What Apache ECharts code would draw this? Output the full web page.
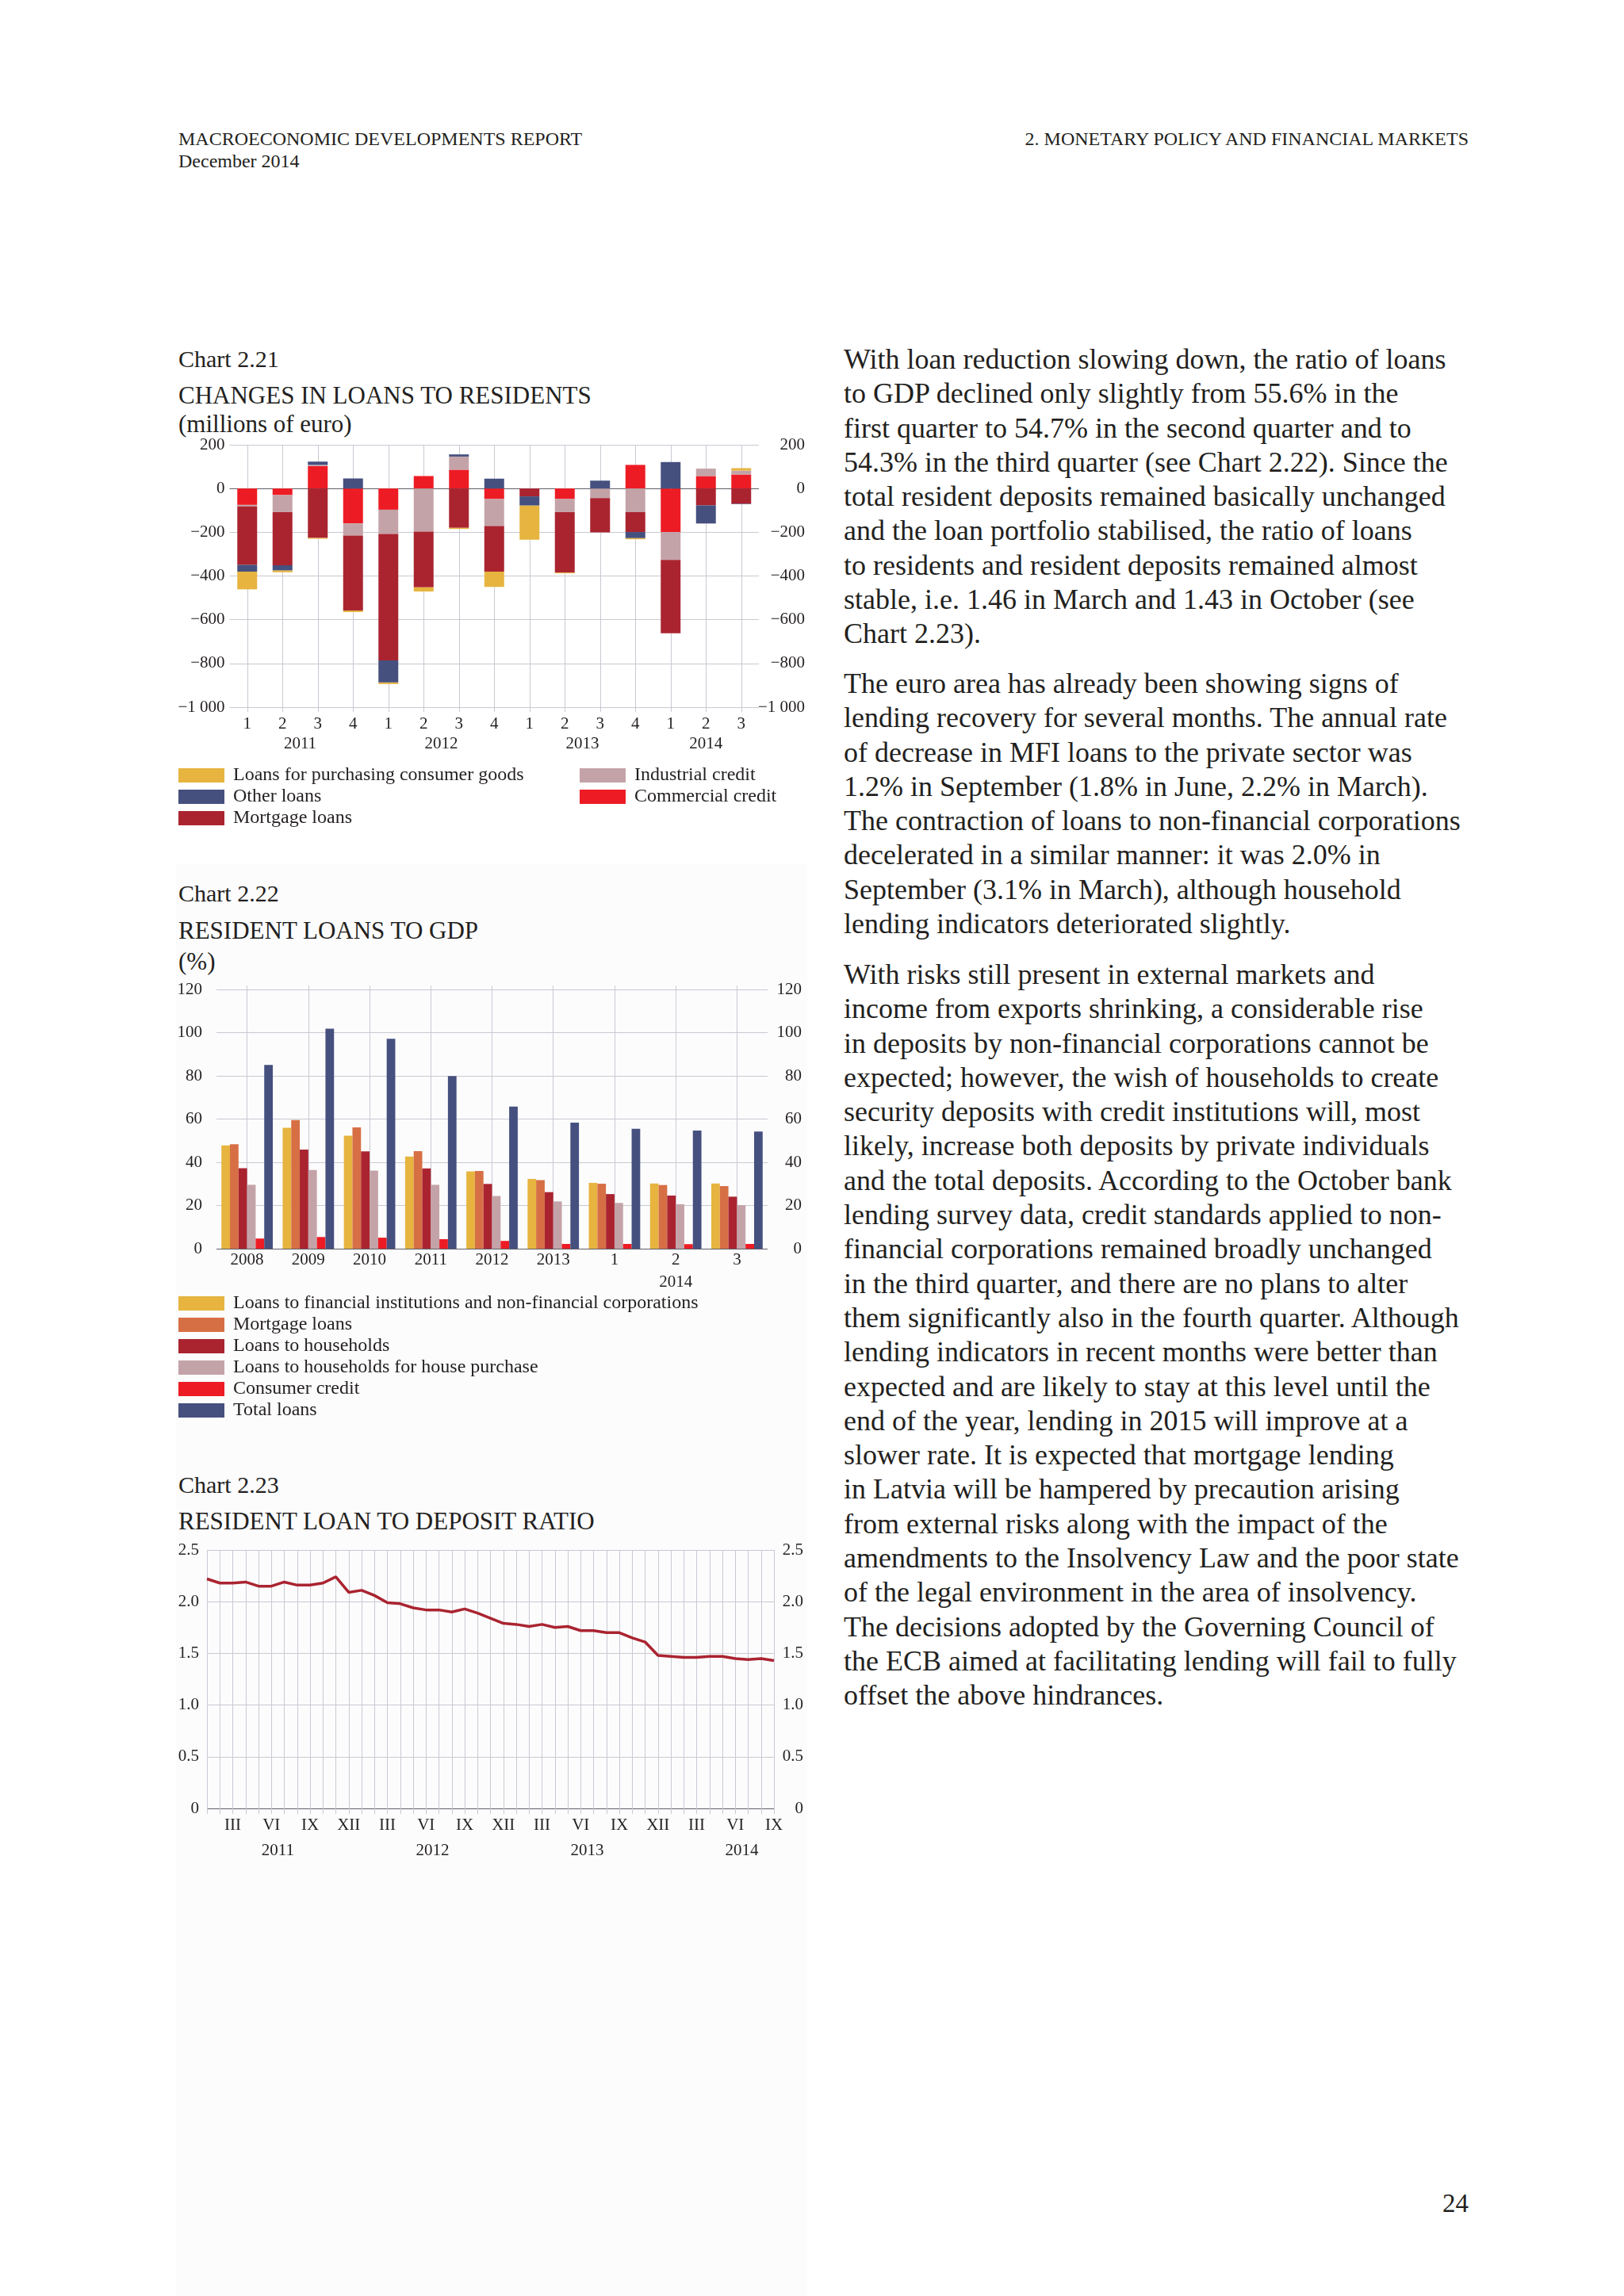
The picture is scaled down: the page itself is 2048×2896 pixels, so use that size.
<!DOCTYPE html>
<html>
<head>
<meta charset="utf-8">
<title>Macroeconomic Developments Report, December 2014 – p. 24</title>
<script src="https://cdn.jsdelivr.net/npm/echarts@6/dist/echarts.min.js"></script>
<style>
  html, body { margin: 0; padding: 0; background: #fff; }
  body {
    width: 2048px; height: 2896px; position: relative; overflow: hidden;
    font-family: "Liberation Serif", "DejaVu Serif", serif; color: #231f20;
  }
  .abs { position: absolute; white-space: nowrap; }
  .hdr { font-size: 24px; line-height: 28px; }
  .ctag { left: 225px; font-size: 30px; line-height: 30px; }
  .ctitle { left: 225px; font-size: 31px; line-height: 31px; }
  .txt { left: 1064px; font-size: 36px; line-height: 43.3px; }
  .chart { position: absolute; left: 220px; width: 810px; }
  .panel { position: absolute; left: 222px; top: 1090px; width: 796px; height: 1806px; background: #fcfcfd; }
</style>
</head>
<body>
<div class="panel"></div>

<div class="abs hdr" style="left:225px; top:161px;">MACROECONOMIC DEVELOPMENTS REPORT<br>December 2014</div>
<div class="abs hdr" style="right:196px; top:161px;">2. MONETARY POLICY AND FINANCIAL MARKETS</div>

<div class="abs ctag" style="top:438px;">Chart 2.21</div>
<div class="abs ctitle" style="top:483px;">CHANGES IN LOANS TO RESIDENTS</div>
<div class="abs ctitle" style="top:519px;">(millions of euro)</div>
<div id="chart221" class="chart" style="top:540px; height:540px;"></div>

<div class="abs ctag" style="top:1112px;">Chart 2.22</div>
<div class="abs ctitle" style="top:1158px;">RESIDENT LOANS TO GDP</div>
<div class="abs ctitle" style="top:1197px;">(%)</div>
<div id="chart222" class="chart" style="top:1230px; height:580px;"></div>

<div class="abs ctag" style="top:1858px;">Chart 2.23</div>
<div class="abs ctitle" style="top:1903px;">RESIDENT LOAN TO DEPOSIT RATIO</div>
<div id="chart223" class="chart" style="top:1940px; height:420px;"></div>

<div class="abs txt" style="top:432px;">With loan reduction slowing down, the ratio of loans<br>to GDP declined only slightly from 55.6% in the<br>first quarter to 54.7% in the second quarter and to<br>54.3% in the third quarter (see Chart 2.22). Since the<br>total resident deposits remained basically unchanged<br>and the loan portfolio stabilised, the ratio of loans<br>to residents and resident deposits remained almost<br>stable, i.e. 1.46 in March and 1.43 in October (see<br>Chart 2.23).</div>

<div class="abs txt" style="top:841px;">The euro area has already been showing signs of<br>lending recovery for several months. The annual rate<br>of decrease in MFI loans to the private sector was<br>1.2% in September (1.8% in June, 2.2% in March).<br>The contraction of loans to non-financial corporations<br>decelerated in a similar manner: it was 2.0% in<br>September (3.1% in March), although household<br>lending indicators deteriorated slightly.</div>

<div class="abs txt" style="top:1208px;">With risks still present in external markets and<br>income from exports shrinking, a considerable rise<br>in deposits by non-financial corporations cannot be<br>expected; however, the wish of households to create<br>security deposits with credit institutions will, most<br>likely, increase both deposits by private individuals<br>and the total deposits. According to the October bank<br>lending survey data, credit standards applied to non-<br>financial corporations remained broadly unchanged<br>in the third quarter, and there are no plans to alter<br>them significantly also in the fourth quarter. Although<br>lending indicators in recent months were better than<br>expected and are likely to stay at this level until the<br>end of the year, lending in 2015 will improve at a<br>slower rate. It is expected that mortgage lending<br>in Latvia will be hampered by precaution arising<br>from external risks along with the impact of the<br>amendments to the Insolvency Law and the poor state<br>of the legal environment in the area of insolvency.<br>The decisions adopted by the Governing Council of<br>the ECB aimed at facilitating lending will fail to fully<br>offset the above hindrances.</div>

<div class="abs" style="right:196px; top:2763px; font-size:33px; line-height:33px;">24</div>

<script>
// ---- Chart 2.21 data (millions of euro) ----
const quarterLabels = ['1', '2', '3', '4', '1', '2', '3', '4', '1', '2', '3', '4', '1', '2', '3'];
const quarterYears = ['2011', '2011', '2011', '2011', '2012', '2012', '2012', '2012',
                      '2013', '2013', '2013', '2013', '2014', '2014', '2014'];
const commercialCredit = [-75, -30, 103, -160, -97, 57, 86, -48, 0, -48, 0, 108, -199, 57, 64];
const industrialCredit = [-7, -78, 5, -55, -111, -197, 60, -124, 0, -60, -44, -108, -128, 34, 18];
const mortgageLoans = [-267, -243, -226, -343, -578, -255, -180, -208, -36, -276, -157, -91, -335, -77, -70];
const otherLoans = [-31, -24, 15, 46, -101, 0, 10, 45, -42, 0, 36, -28, 121, -83, -2];
const consumerGoodsLoans = [-81, -8, -4, -7, -7, -19, -5, -70, -156, -4, 0, -5, 0, 0, 11];

// ---- Chart 2.22 data (%) ----
const gdpCategories = ['2008', '2009', '2010', '2011', '2012', '2013', '1', '2', '3'];
const gdpQuarterYear = '2014';
const finCorpLoans = [47.8, 56.0, 52.3, 42.7, 35.8, 32.3, 30.5, 30.2, 30.2];
const mortgageGdp = [48.4, 59.6, 56.2, 45.2, 36.0, 31.8, 30.1, 29.5, 29.0];
const householdLoans = [37.3, 45.9, 45.1, 37.2, 30.0, 26.2, 25.3, 24.6, 24.1];
const housePurchaseLoans = [29.6, 36.5, 36.2, 29.6, 24.4, 21.9, 21.2, 20.6, 20.2];
const consumerCredit = [4.7, 5.4, 5.1, 4.4, 3.6, 2.2, 2.2, 2.1, 2.2];
const totalLoans = [85.1, 101.9, 97.2, 80.0, 65.8, 58.4, 55.6, 54.7, 54.3];

// ---- Chart 2.23 data (ratio, monthly from January 2011) ----
const romanMonths = ['I', 'II', 'III', 'IV', 'V', 'VI', 'VII', 'VIII', 'IX', 'X', 'XI', 'XII'];
const ratioFirstYear = 2011;
const loanDepositRatio = [2.22, 2.18, 2.18, 2.19, 2.15, 2.15, 2.19, 2.16, 2.16, 2.18,
                          2.24, 2.09, 2.11, 2.06, 1.99, 1.98, 1.94, 1.92, 1.92, 1.90,
                          1.93, 1.89, 1.84, 1.79, 1.78, 1.76, 1.78, 1.75, 1.76, 1.72,
                          1.72, 1.70, 1.70, 1.65, 1.61, 1.48, 1.47, 1.46, 1.46, 1.47,
                          1.47, 1.45, 1.44, 1.45, 1.43];

const FONT = '"Liberation Serif", "DejaVu Serif", serif';
const INK = '#231f20';
const GRID = '#c9c9d3';
const ZERO = '#5f5f68';
const C = {
    yellow: '#e6b43f', orange: '#d76f45', darkRed: '#aa2430',
    pink: '#c4a3a8', red: '#ed1c24', blue: '#45507f'
};
const axisText = { fontFamily: FONT, fontSize: 21, color: INK };
const legendText = { fontFamily: FONT, fontSize: 24, color: INK, lineHeight: 24, padding: [0, 0, 0, 6] };
const legendBase = { orient: 'vertical', padding: 0, itemWidth: 58, itemHeight: 18, itemGap: 3, icon: 'rect',
                     textStyle: legendText };

function splitColors(min, max, step) {
    const out = [];
    for (let v = min; v <= max + 1e-9; v += step) out.push(Math.abs(v) < 1e-9 ? ZERO : GRID);
    return out;
}
function euroFmt(v) {
    const a = Math.abs(v);
    const s = String(a).replace(/\B(?=(\d{3})+(?!\d))/g, ' ');
    return (v < 0 ? '\u2212' : '') + s;
}
const odd = (i) => i % 2 === 1;

// ================= Chart 2.21 =================
(function () {
    // half-category slots used for year labels and for gridlines through bar centres
    const slots = new Array(quarterLabels.length * 2 + 1).fill('');
    const seen = {};
    quarterYears.forEach((y, i) => { if (!(y in seen)) seen[y] = { first: i, n: 0 }; seen[y].n++; });
    Object.keys(seen).forEach((y) => { slots[2 * seen[y].first + seen[y].n] = y; });

    const chart = echarts.init(document.getElementById('chart221'));
    const bar = (name, data, color) => ({
        name, type: 'bar', stack: 'loans', data, barWidth: 25,
        itemStyle: { color }, emphasis: { disabled: true }
    });
    chart.setOption({
        animation: false,
        grid: { left: 69.5, right: 73, top: 21, height: 331 },
        legend: [
            Object.assign({ left: 5, top: 426,
                data: ['Loans for purchasing consumer goods', 'Other loans', 'Mortgage loans'] }, legendBase),
            Object.assign({ left: 511, top: 426,
                data: ['Industrial credit', 'Commercial credit'] }, legendBase)
        ],
        xAxis: [
            { type: 'category', data: quarterLabels,
              axisLine: { show: false, onZero: false }, axisTick: { show: false },
              axisLabel: Object.assign({ interval: 0, margin: 11 }, axisText), splitLine: { show: false } },
            { type: 'category', boundaryGap: false, data: slots, position: 'bottom',
              axisLine: { show: false, onZero: false },
              axisTick: { show: true, interval: odd, length: 6, lineStyle: { color: GRID } },
              axisLabel: Object.assign({ interval: 0, margin: 36 }, axisText),
              splitLine: { show: true, interval: odd, lineStyle: { color: GRID, width: 1 } } }
        ],
        yAxis: [
            { type: 'value', min: -1000, max: 200, interval: 200, position: 'left',
              axisLine: { show: false }, axisTick: { show: false },
              axisLabel: Object.assign({ margin: 6, formatter: euroFmt }, axisText),
              splitLine: { show: true, lineStyle: { color: splitColors(-1000, 200, 200), width: 1 } } },
            { type: 'value', min: -1000, max: 200, interval: 200, position: 'right',
              axisLine: { show: false }, axisTick: { show: false },
              axisLabel: Object.assign({ margin: 58, align: 'right', formatter: euroFmt }, axisText),
              splitLine: { show: false } }
        ],
        series: [
            bar('Commercial credit', commercialCredit, C.red),
            bar('Industrial credit', industrialCredit, C.pink),
            bar('Mortgage loans', mortgageLoans, C.darkRed),
            bar('Other loans', otherLoans, C.blue),
            bar('Loans for purchasing consumer goods', consumerGoodsLoans, C.yellow)
        ]
    });
})();

// ================= Chart 2.22 =================
(function () {
    const quarterIdx = gdpCategories.map((c, i) => (c.length === 1 ? i : -1)).filter((i) => i >= 0);
    const yearUnder = quarterIdx[Math.floor(quarterIdx.length / 2)];
    const chart = echarts.init(document.getElementById('chart222'));
    const bar = (name, data, color) => ({
        name, type: 'bar', data, barWidth: 10.8, barGap: '0%',
        itemStyle: { color }, emphasis: { disabled: true }
    });
    chart.setOption({
        animation: false,
        grid: { left: 53, right: 62, top: 18.3, height: 326.7 },
        legend: Object.assign({ left: 5, top: 402 }, legendBase),
        xAxis: [
            { type: 'category', data: gdpCategories,
              axisLine: { show: false, onZero: false }, axisTick: { show: false },
              axisLabel: Object.assign({ interval: 0, margin: 0, lineHeight: 28,
                  formatter: (v, i) => (i === yearUnder ? v + '\n' + gdpQuarterYear : v) }, axisText),
              splitLine: { show: false } },
            { type: 'category', boundaryGap: false, data: new Array(gdpCategories.length * 2 + 1).fill(''),
              axisLine: { show: false, onZero: false },
              axisTick: { show: true, interval: odd, length: 5, lineStyle: { color: GRID } },
              axisLabel: { show: false },
              splitLine: { show: true, interval: odd, lineStyle: { color: GRID, width: 1 } } }
        ],
        yAxis: [
            { type: 'value', min: 0, max: 120, interval: 20, position: 'left',
              axisLine: { show: false }, axisTick: { show: false },
              axisLabel: Object.assign({ margin: 18 }, axisText),
              splitLine: { show: true, lineStyle: { color: splitColors(0, 120, 20), width: 1 } } },
            { type: 'value', min: 0, max: 120, interval: 20, position: 'right',
              axisLine: { show: false }, axisTick: { show: false },
              axisLabel: Object.assign({ margin: 43, align: 'right' }, axisText),
              splitLine: { show: false } }
        ],
        series: [
            bar('Loans to financial institutions and non-financial corporations', finCorpLoans, C.yellow),
            bar('Mortgage loans', mortgageGdp, C.orange),
            bar('Loans to households', householdLoans, C.darkRed),
            bar('Loans to households for house purchase', housePurchaseLoans, C.pink),
            bar('Consumer credit', consumerCredit, C.red),
            bar('Total loans', totalLoans, C.blue)
        ]
    });
})();

// ================= Chart 2.23 =================
(function () {
    const months = loanDepositRatio.map((_, i) => romanMonths[i % 12] + ' ' + (ratioFirstYear + Math.floor(i / 12)));
    // half-month slots, year label centred on its twelve months
    const slots = new Array(months.length * 2 - 1).fill('');
    for (let y = 0; y * 12 < months.length; y++) {
        const k = 24 * y + 11;
        if (k < slots.length) slots[k] = String(ratioFirstYear + y);
    }
    const chart = echarts.init(document.getElementById('chart223'));
    chart.setOption({
        animation: false,
        grid: { left: 41, right: 54, top: 15, height: 326 },
        xAxis: [
            { type: 'category', boundaryGap: false, data: months,
              axisLine: { show: false, onZero: false },
              axisTick: { show: true, interval: 0, length: 7, lineStyle: { color: GRID } },
              axisLabel: Object.assign({ interval: (i) => i % 3 === 2, margin: 11,
                  formatter: (v) => v.split(' ')[0] }, axisText),
              splitLine: { show: true, interval: 0, lineStyle: { color: GRID, width: 1 } } },
            { type: 'category', boundaryGap: false, data: slots, position: 'bottom',
              axisLine: { show: false, onZero: false }, axisTick: { show: false },
              axisLabel: Object.assign({ interval: 0, margin: 43 }, axisText),
              splitLine: { show: false } }
        ],
        yAxis: [
            { type: 'value', min: 0, max: 2.5, interval: 0.5, position: 'left',
              axisLine: { show: false }, axisTick: { show: false },
              axisLabel: Object.assign({ margin: 10, formatter: (v) => (v === 0 ? '0' : v.toFixed(1)) }, axisText),
              splitLine: { show: true, lineStyle: { color: splitColors(0, 2.5, 0.5), width: 1 } } },
            { type: 'value', min: 0, max: 2.5, interval: 0.5, position: 'right',
              axisLine: { show: false }, axisTick: { show: false },
              axisLabel: Object.assign({ margin: 37, align: 'right', formatter: (v) => (v === 0 ? '0' : v.toFixed(1)) }, axisText),
              splitLine: { show: false } }
        ],
        series: [
            { name: 'Loan to deposit ratio', type: 'line', data: loanDepositRatio, showSymbol: false, symbol: 'none',
              lineStyle: { color: C.darkRed, width: 3.5 }, emphasis: { disabled: true } }
        ]
    });
})();
</script>
</body>
</html>
